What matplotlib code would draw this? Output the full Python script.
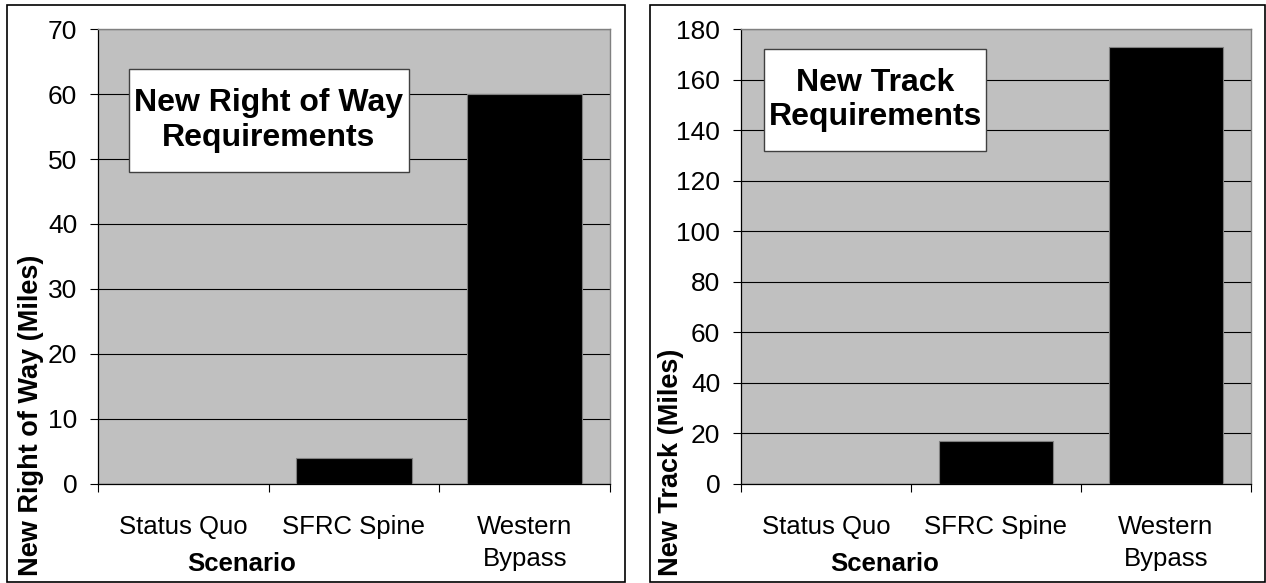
import matplotlib.pyplot as plt
from matplotlib.patches import Rectangle

plt.rcParams['font.family'] = ['Liberation Sans', 'DejaVu Sans']

# Scenario data
scenarios = ['Status Quo', 'SFRC Spine', 'Western\nBypass']
right_of_way = [0, 4, 60]      # new right of way, miles
new_track = [0, 17, 173]       # new track, miles

W, H = 1266, 583
fig = plt.figure(figsize=(W / 100, H / 100), dpi=100)
fig.patch.set_facecolor('white')


def px(x0, y0, x1, y1):
    # pixel box (top-left origin) -> figure fraction [left, bottom, width, height]
    return [x0 / W, (H - y1) / H, (x1 - x0) / W, (y1 - y0) / H]


def bar_panel(rect, values, ymax, ystep, ylabel, title, box, frame, ylab_x, scen_x):
    # outer chart border
    fig.patches.append(Rectangle((frame[0] / W, (H - frame[3]) / H),
                                 (frame[2] - frame[0]) / W, (frame[3] - frame[1]) / H,
                                 transform=fig.transFigure, fill=False,
                                 edgecolor='black', linewidth=1.2, zorder=0))

    ax = fig.add_axes(px(*rect))
    ax.set_facecolor('#C0C0C0')
    ax.bar(range(len(values)), values, width=0.675, color='black',
           edgecolor='#808080', linewidth=0.8, zorder=3)

    ax.set_xlim(-0.5, len(values) - 0.5)
    ax.set_ylim(0, ymax)
    ax.set_yticks(range(0, ymax + 1, ystep))
    ax.yaxis.grid(True, color='black', linewidth=0.8)
    ax.set_axisbelow(True)

    ax.set_xticks(range(len(values)))
    ax.set_xticklabels(scenarios, fontsize=18.5, linespacing=1.4)
    ax.set_xticks([i - 0.5 for i in range(len(values) + 1)], minor=True)
    ax.tick_params(axis='x', which='major', length=0, pad=23)
    ax.tick_params(axis='x', which='minor', length=6, width=0.8, direction='out')
    ax.tick_params(axis='y', length=6, width=0.8, direction='out', pad=9, labelsize=19)

    for s in ['top', 'right']:
        ax.spines[s].set_color('#808080')
        ax.spines[s].set_linewidth(1.0)
    for s in ['left', 'bottom']:
        ax.spines[s].set_color('black')
        ax.spines[s].set_linewidth(0.9)

    # title box inside the plot area
    bx0, bx1, by0, by1 = box
    ax.add_patch(Rectangle((bx0, by0), bx1 - bx0, by1 - by0, transform=ax.transAxes,
                           facecolor='white', edgecolor='#404040', linewidth=1.0,
                           zorder=5, clip_on=False))
    ax.text((bx0 + bx1) / 2, (by0 + by1) / 2, title, transform=ax.transAxes,
            ha='center', va='center', fontsize=23, fontweight='bold',
            linespacing=1.2, zorder=6)

    fig.text(ylab_x / W, (H - 576) / H, ylabel, rotation=90, ha='center',
             va='bottom', fontsize=19.5, fontweight='bold')
    fig.text(scen_x / W, (H - 571) / H, 'Scenario', ha='center', va='baseline',
             fontsize=18.5, fontweight='bold')
    return ax


bar_panel((98, 29.3, 610, 483.5), right_of_way, 70, 10,
          'New Right of Way (Miles)', 'New Right of Way\nRequirements',
          (0.060, 0.607, 0.686, 0.912), (7, 5, 625, 582), 31, 242)

bar_panel((741, 29.3, 1251, 483.5), new_track, 180, 20,
          'New Track (Miles)', 'New Track\nRequirements',
          (0.046, 0.480, 0.731, 0.957), (650, 5, 1265, 582), 671, 885)

fig.savefig('out.png', dpi=100)
